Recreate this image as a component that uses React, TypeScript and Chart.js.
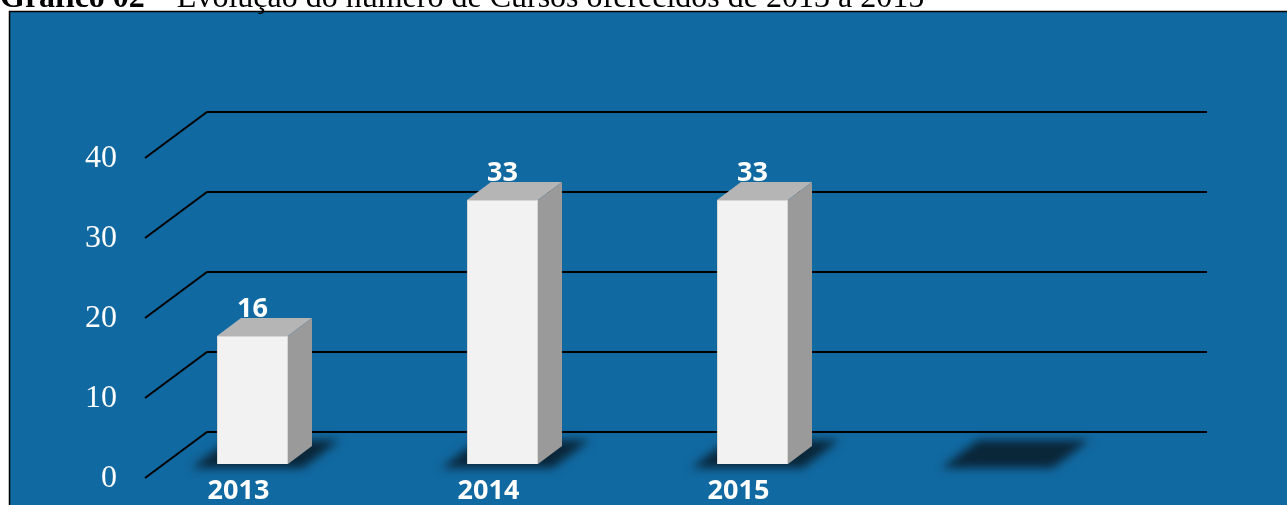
import React, { useEffect, useRef } from "react";
import { Chart, registerables } from "chart.js";

Chart.register(...registerables);

const categories = ["2013", "2014", "2015", ""];
const courses: (number | null)[] = [16, 33, 33, null];
const yTickValues = [0, 10, 20, 30, 40];

const BLUE = "#1169A1";
const FRONT = "#F2F2F2";
const TOP = "#B5B5B5";
const SIDE = "#9A9A9A";
const SHADOW = "#0A2639";
const DEPTH_X = 24;
const DEPTH_Y = -18;

const threeD = {
  id: "threeD",
  beforeDraw(chart: any) {
    const { ctx, width, height } = chart;
    ctx.save();
    ctx.fillStyle = "#ffffff";
    ctx.fillRect(0, 0, width, height);
    ctx.fillStyle = BLUE;
    ctx.fillRect(9, 11, width - 9, height - 11);
    ctx.strokeStyle = "#000";
    ctx.lineWidth = 1.5;
    ctx.beginPath();
    ctx.moveTo(9.5, height);
    ctx.lineTo(9.5, 11.5);
    ctx.lineTo(width, 11.5);
    ctx.stroke();
    ctx.restore();
  },
  beforeDatasetsDraw(chart: any) {
    const { ctx, chartArea } = chart;
    const y = chart.scales.y;
    const x = chart.scales.x;
    ctx.save();
    ctx.strokeStyle = "#000";
    ctx.lineWidth = 2;
    for (const v of yTickValues) {
      const py = y.getPixelForValue(v);
      ctx.beginPath();
      ctx.moveTo(chartArea.left + 17.5, py + 14);
      ctx.lineTo(chartArea.left + 79.5, py - 32);
      ctx.lineTo(chartArea.right + 79.5, py - 32);
      ctx.stroke();
    }
    const b = y.getPixelForValue(0);
    ctx.fillStyle = SHADOW;
    ctx.filter = "blur(5px)";
    categories.forEach((_, i) => {
      const c = x.getPixelForValue(i);
      ctx.beginPath();
      ctx.moveTo(c - 61, b + 4);
      ctx.lineTo(c + 50, b + 4);
      ctx.lineTo(c + 87, b - 24);
      ctx.lineTo(c - 24, b - 24);
      ctx.closePath();
      ctx.fill();
    });
    ctx.filter = "none";
    ctx.restore();
  },
  afterDatasetsDraw(chart: any) {
    const { ctx } = chart;
    const meta = chart.getDatasetMeta(0);
    ctx.save();
    meta.data.forEach((bar: any, i: number) => {
      const v = courses[i];
      if (v === null || v === undefined) return;
      const l = bar.x - bar.width / 2;
      const r = bar.x + bar.width / 2;
      const t = bar.y;
      const bt = bar.base;
      ctx.fillStyle = TOP;
      ctx.beginPath();
      ctx.moveTo(l, t);
      ctx.lineTo(r, t);
      ctx.lineTo(r + DEPTH_X, t + DEPTH_Y);
      ctx.lineTo(l + DEPTH_X, t + DEPTH_Y);
      ctx.closePath();
      ctx.fill();
      ctx.fillStyle = SIDE;
      ctx.beginPath();
      ctx.moveTo(r, t);
      ctx.lineTo(r + DEPTH_X, t + DEPTH_Y);
      ctx.lineTo(r + DEPTH_X, bt + DEPTH_Y);
      ctx.lineTo(r, bt);
      ctx.closePath();
      ctx.fill();
      ctx.fillStyle = "#ffffff";
      ctx.font = 'bold 27px "Open Sans", sans-serif';
      ctx.textAlign = "center";
      ctx.textBaseline = "middle";
      ctx.fillText(String(v), bar.x, t + DEPTH_Y - 9);
    });
    ctx.restore();
  },
};

export default function App() {
  const ref = useRef<HTMLCanvasElement>(null);
  useEffect(() => {
    if (!ref.current) return;
    const chart = new Chart(ref.current, {
      type: "bar",
      data: {
        labels: categories,
        datasets: [
          {
            data: courses as any,
            backgroundColor: FRONT,
            borderColor: "#D6D6D6",
            borderWidth: 1,
            categoryPercentage: 1,
            barPercentage: 0.284,
          },
        ],
      },
      options: {
        animation: false,
        responsive: false,
        devicePixelRatio: 1,
        layout: { padding: { left: 67.5, right: 159.5, top: 144, bottom: 0 } },
        plugins: { legend: { display: false }, tooltip: { enabled: false }, title: { display: false } },
        scales: {
          x: {
            grid: { display: false, drawTicks: false },
            border: { display: false },
            ticks: {
              color: "#ffffff",
              font: { family: '"Open Sans", sans-serif', size: 27, weight: "bold" },
              padding: 11,
              labelOffset: -14,
            },
            afterFit: (axis: any) => {
              axis.height = 41;
            },
          },
          y: {
            min: 0,
            max: 40,
            grid: { display: false, drawTicks: false },
            border: { display: false },
            ticks: {
              stepSize: 10,
              color: "#ffffff",
              font: { family: '"Liberation Serif", "Times New Roman", serif', size: 32 },
              padding: 10.5,
              labelOffset: 15,
            },
            afterFit: (axis: any) => {
              axis.width = 60;
            },
          },
        },
      },
      plugins: [threeD],
    });
    return () => chart.destroy();
  }, []);

  return (
    <div style={{ position: "absolute", left: 0, top: 0, width: 1287, height: 505, overflow: "hidden" }}>
      <canvas ref={ref} width={1287} height={505} style={{ position: "absolute", left: 0, top: 0, width: 1287, height: 505 }} />
      <div
        style={{
          position: "absolute",
          left: 0,
          top: -20,
          fontFamily: '"Liberation Serif", "Times New Roman", serif',
          fontSize: 32,
          lineHeight: "32px",
          whiteSpace: "nowrap",
          color: "#000",
        }}
      >
        <b>Gráfico 02</b> – Evolução do número de Cursos oferecidos de 2013 a 2015
      </div>
    </div>
  );
}
